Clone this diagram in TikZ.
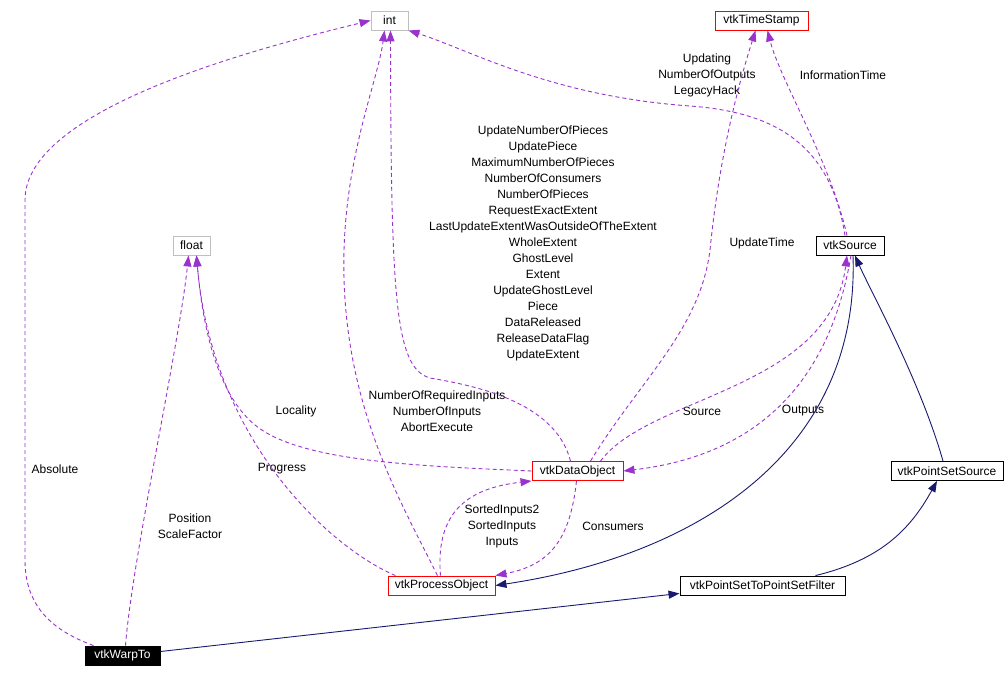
\documentclass[tikz,border=0pt]{standalone}
\usepackage{fontspec}
\setmainfont{Liberation Sans}
\usetikzlibrary{arrows.meta}
\definecolor{edgepurple}{RGB}{154,50,205}
\definecolor{edgenavy}{RGB}{25,25,112}
\definecolor{boxgray}{RGB}{191,191,191}
\tikzset{
  cls/.style={draw, rectangle, minimum height=19pt, inner xsep=2pt, inner ysep=0pt, font=\fontsize{12}{14}\selectfont, line width=0.9pt, fill=white},
  redbox/.style={cls, draw=red},
  graybox/.style={cls, draw=boxgray},
  blackbox/.style={cls, draw=black},
  mainbox/.style={cls, draw=black, fill=black, text=white},
  lbl/.style={align=center, font=\fontsize{12}{16}\selectfont, inner sep=0pt},
  use/.style={draw=edgepurple, dash pattern=on 4pt off 3pt, line width=0.9pt, -{Triangle[length=11pt,width=8pt,fill=edgepurple]}},
  inh/.style={draw=edgenavy, line width=0.9pt, -{Triangle[length=11pt,width=8pt,fill=edgenavy]}}
}
\begin{document}
\begin{tikzpicture}[x=1pt,y=-1pt]
\useasboundingbox (0,0) rectangle (1005,677);
% nodes
\node[graybox, minimum width=37pt] (int) at (389.5,20.5) {int};
\node[redbox, minimum width=93pt] (ts) at (761.5,20.5) {vtkTimeStamp};
\node[graybox, minimum width=37pt] (float) at (191.5,245.5) {float};
\node[blackbox, minimum width=68pt] (src) at (850,245.5) {vtkSource};
\node[redbox, minimum width=91pt] (dobj) at (577.5,471) {vtkDataObject};
\node[redbox, minimum width=107pt] (proc) at (441.5,585.5) {vtkProcessObject};
\node[blackbox, minimum width=112pt] (pss) at (947,471) {vtkPointSetSource};
\node[blackbox, minimum width=165pt] (filt) at (762.5,585.5) {vtkPointSetToPointSetFilter};
\node[mainbox, minimum width=75pt] (warp) at (122.5,655.5) {vtkWarpTo};

% labels
\node[lbl] (lAbs) at (55,469) {Absolute};
\node[lbl] (lPos) at (190,526) {Position\\ScaleFactor};
\node[lbl] (lProg) at (282,469) {Progress};
\node[lbl] (lLoc) at (296,411) {Locality};
\node[lbl] (lReq) at (437,411) {NumberOfRequiredInputs\\NumberOfInputs\\AbortExecute};
\node[lbl] (lLong) at (543,243) {UpdateNumberOfPieces\\UpdatePiece\\MaximumNumberOfPieces\\NumberOfConsumers\\NumberOfPieces\\RequestExactExtent\\LastUpdateExtentWasOutsideOfTheExtent\\WholeExtent\\GhostLevel\\Extent\\UpdateGhostLevel\\Piece\\DataReleased\\ReleaseDataFlag\\UpdateExtent};
\node[lbl] (lUpd) at (707,75) {Updating\\NumberOfOutputs\\LegacyHack};
\node[lbl] (lInfo) at (843,75) {InformationTime};
\node[lbl] (lUT) at (762,243) {UpdateTime};
\node[lbl] (lSrc) at (702,411) {Source};
\node[lbl] (lOut) at (803,411) {Outputs};
\node[lbl] (lSort) at (502,526) {SortedInputs2\\SortedInputs\\Inputs};
\node[lbl] (lCons) at (613,526) {Consumers};

% usage edges (dashed purple)
\draw[use] ([xshift=-29pt]warp.north) .. controls (45,628) and (25,600) .. (25,560) -- (25,200) .. controls (25,110) and (250,50) .. (int.west);
\draw[use] ([xshift=3pt]warp.north) .. controls (132,560) and (180,340) .. ([xshift=-3pt]float.south);
\draw[use] ([xshift=-46pt]proc.north) .. controls (330,548) and (212,440) .. ([xshift=5pt]float.south);
\draw[use] (dobj.west) .. controls (420,466) and (300,462) .. (255,425) .. controls (215,392) and (202,320) .. ([xshift=5pt]float.south);
\draw[use] ([xshift=-4pt]proc.north) .. controls (400,500) and (340,400) .. (344,250) .. controls (347,150) and (378,80) .. ([xshift=-5pt]int.south);
\draw[use] ([xshift=-7pt]dobj.north) .. controls (555,400) and (470,385) .. (430,378) .. controls (395,368) and (391,300) .. ([xshift=1pt]int.south);
\draw[use] ([xshift=-5pt]src.north) .. controls (830,140) and (770,112) .. (690,106) .. controls (550,96) and (470,50) .. (int.south east);
\draw[use] ([xshift=13pt]dobj.north) .. controls (640,380) and (700,330) .. (710,250) .. controls (720,150) and (740,80) .. ([xshift=-6pt]ts.south);
\draw[use] ([xshift=-3pt]src.north) .. controls (830,160) and (780,80) .. ([xshift=6pt]ts.south);
\draw[use] ([xshift=23pt]dobj.north) .. controls (650,395) and (830,390) .. ([xshift=-3pt]src.south);
\draw[use] ([xshift=1pt]src.south) .. controls (830,380) and (760,455) .. (dobj.east);
\draw[use] ([xshift=-1pt]proc.north) .. controls (435,510) and (470,488) .. (dobj.south west);
\draw[use] ([xshift=-1pt]dobj.south) .. controls (570,540) and (550,565) .. (proc.north east);

% inheritance edges (solid navy)
\draw[inh] ([xshift=3pt]src.south) .. controls (860,450) and (700,555) .. (proc.east);
\draw[inh] ([xshift=-4pt]pss.north) .. controls (920,380) and (870,290) .. ([xshift=5pt]src.south);
\draw[inh] ([xshift=53pt]filt.north) .. controls (880,560) and (910,530) .. ([xshift=-10pt]pss.south);
\draw[inh] ([yshift=4pt]warp.east) -- ([yshift=2pt]filt.south west);
\end{tikzpicture}
\end{document}
